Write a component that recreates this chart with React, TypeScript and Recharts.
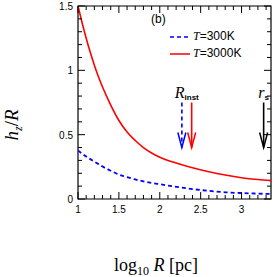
import React from "react";
import {
  ComposedChart,
  Line,
  XAxis,
  YAxis,
  ReferenceLine,
  ReferenceDot,
  ReferenceArea,
} from "recharts";

const W = 277;
const H = 277;
const MARGIN = { top: 6, right: 6, left: 39, bottom: 39 };
const PLOT_W = W - MARGIN.left - MARGIN.right;

const logR = [1.0, 1.05, 1.1, 1.15, 1.2, 1.25, 1.3, 1.4, 1.5, 1.6, 1.7, 1.8, 1.9, 2.0, 2.2, 2.4, 2.6, 2.8, 3.0, 3.2, 3.36];
const hT3000 = [1.5, 1.37, 1.25, 1.14, 1.04, 0.95, 0.87, 0.73, 0.61, 0.52, 0.455, 0.4, 0.358, 0.325, 0.28, 0.243, 0.212, 0.186, 0.165, 0.151, 0.143];
const hT300 = [0.377, 0.353, 0.33, 0.31, 0.29, 0.271, 0.252, 0.22, 0.19, 0.17, 0.152, 0.137, 0.125, 0.115, 0.095, 0.077, 0.063, 0.052, 0.046, 0.042, 0.039];

const xTicks = [1, 1.1, 1.2, 1.3, 1.4, 1.5, 1.6, 1.7, 1.8, 1.9, 2, 2.1, 2.2, 2.3, 2.4, 2.5, 2.6, 2.7, 2.8, 2.9, 3, 3.1, 3.2, 3.3];
const xMajor = [1, 1.5, 2, 2.5, 3];
const yTicks = [0, 0.1, 0.2, 0.3, 0.4, 0.5, 0.6, 0.7, 0.8, 0.9, 1, 1.1, 1.2, 1.3, 1.4, 1.5];
const yMajor = [0, 0.5, 1, 1.5];

// arrows: x position, top, tip
const arrowTop = 0.75;
const arrowTip = 0.4;
const arrows = [
  { x: 2.27, color: "#0000ff", dashed: true },
  { x: 2.39, color: "#ff0000", dashed: false },
  { x: 3.27, color: "#000000", dashed: false },
];

const data = logR.map((x, i) => ({ x, t300: hT300[i], t3000: hT3000[i] }));

const isMajor = (v: number, list: number[]) => list.some((m) => Math.abs(m - v) < 1e-6);

const NUM_FONT = "Liberation Sans, Arial, sans-serif";
const SERIF = "Liberation Serif, Times New Roman, serif";

function XTick(props: any) {
  const { x, y, payload } = props;
  const major = isMajor(payload.value, xMajor);
  const len = major ? 7 : 4;
  return (
    <g>
      <line x1={x} x2={x} y1={y} y2={y - len} stroke="#000" strokeWidth={1} />
      <line x1={x} x2={x} y1={MARGIN.top} y2={MARGIN.top + len} stroke="#000" strokeWidth={1} />
      {major && (
        <text x={x} y={y + 14} textAnchor="middle" fontSize={10} fontFamily={NUM_FONT} fill="#000">
          {payload.value}
        </text>
      )}
    </g>
  );
}

function YTick(props: any) {
  const { x, y, payload } = props;
  const major = isMajor(payload.value, yMajor);
  const len = major ? 7 : 4;
  const right = W - MARGIN.right;
  return (
    <g>
      <line x1={x} x2={x + len} y1={y} y2={y} stroke="#000" strokeWidth={1} />
      <line x1={right} x2={right - len} y1={y} y2={y} stroke="#000" strokeWidth={1} />
      {major && (
        <text x={x - 5} y={y + 4} textAnchor="end" fontSize={10} fontFamily={NUM_FONT} fill="#000">
          {payload.value}
        </text>
      )}
    </g>
  );
}

function ArrowHead(props: any) {
  const { cx, cy, color } = props;
  if (cx == null || cy == null) return null;
  return (
    <path
      d={`M${cx - 4},${cy - 15} L${cx},${cy} L${cx + 4},${cy - 15}`}
      fill="none"
      stroke={color}
      strokeWidth={1.5}
    />
  );
}

function LegendBox() {
  return (
    <div
      style={{
        position: "absolute",
        left: 151,
        top: 11,
        fontFamily: NUM_FONT,
        fontSize: 12,
        color: "#000",
        lineHeight: "17px",
        pointerEvents: "none",
      }}
    >
      <div style={{ marginLeft: 0, marginBottom: 0 }}>(b)</div>
      <div style={{ display: "flex", alignItems: "center", marginLeft: 19 }}>
        <svg width={20} height={6}>
          <line x1={0} x2={20} y1={3} y2={3} stroke="#0000ff" strokeWidth={1.5} strokeDasharray="4 3" />
        </svg>
        <span style={{ marginLeft: 3 }}>
          <i style={{ fontFamily: SERIF }}>T</i>=300K
        </span>
      </div>
      <div style={{ display: "flex", alignItems: "center", marginLeft: 19 }}>
        <svg width={20} height={6}>
          <line x1={0} x2={20} y1={3} y2={3} stroke="#ff0000" strokeWidth={1.5} />
        </svg>
        <span style={{ marginLeft: 3 }}>
          <i style={{ fontFamily: SERIF }}>T</i>=3000K
        </span>
      </div>
    </div>
  );
}

export default function App() {
  return (
    <div style={{ position: "absolute", left: 0, top: 0, width: W, height: H, background: "#fff" }}>
      <ComposedChart width={W} height={H} data={data} margin={MARGIN}>
        <XAxis
          dataKey="x"
          type="number"
          domain={[1, 3.36]}
          ticks={xTicks}
          interval={0}
          tickSize={0}
          tickMargin={0}
          tickLine={false}
          axisLine={false}
          tick={<XTick />}
          height={MARGIN.bottom}
          allowDataOverflow
          label={{
            content: () => (
              <text x={MARGIN.left + PLOT_W / 2 + 1} y={H - 6} textAnchor="middle" fontFamily={SERIF} fontSize={18} fill="#000">
                log
                <tspan fontSize={12} dy={4}>10</tspan>
                <tspan dy={-4}> </tspan>
                <tspan fontStyle="italic">R</tspan>
                <tspan>{"  [pc]"}</tspan>
              </text>
            ),
          }}
        />
        <YAxis
          type="number"
          domain={[0, 1.5]}
          ticks={yTicks}
          interval={0}
          tickSize={0}
          tickMargin={0}
          tickLine={false}
          axisLine={false}
          tick={<YTick />}
          width={MARGIN.left}
          allowDataOverflow
          label={{
            content: () => {
              const cx = 18;
              const cy = 125;
              return (
                <text transform={`translate(${cx},${cy}) rotate(-90)`} textAnchor="middle" fontFamily={SERIF} fontSize={19} fill="#000">
                  <tspan fontStyle="italic">h</tspan>
                  <tspan fontStyle="italic" fontSize={12} dy={4}>z</tspan>
                  <tspan dy={-4}>/</tspan>
                  <tspan fontStyle="italic">R</tspan>
                </text>
              );
            },
          }}
        />
        <ReferenceArea x1={1} x2={3.36} y1={0} y2={1.5} fill="none" stroke="#000" strokeWidth={1.2} ifOverflow="visible" />
        <Line
          type="monotone"
          dataKey="t300"
          stroke="#0000ff"
          strokeWidth={1.8}
          strokeDasharray="4 3"
          dot={false}
          isAnimationActive={false}
        />
        <Line
          type="monotone"
          dataKey="t3000"
          stroke="#ff0000"
          strokeWidth={1.6}
          dot={false}
          isAnimationActive={false}
        />
        {arrows.map((a) => (
          <ReferenceLine
            key={`l${a.x}`}
            segment={[
              { x: a.x, y: arrowTop },
              { x: a.x, y: arrowTip },
            ]}
            stroke={a.color}
            strokeWidth={1.6}
            strokeDasharray={a.dashed ? "4 3" : undefined}
          />
        ))}
        {arrows.map((a) => (
          <ReferenceDot
            key={`h${a.x}`}
            x={a.x}
            y={arrowTip}
            r={0}
            shape={(p: any) => <ArrowHead {...p} color={a.color} />}
          />
        ))}
        <ReferenceDot
          x={2.33}
          y={arrowTop}
          r={0}
          shape={(p: any) => (
            <text x={p.cx} y={p.cy - 5} textAnchor="middle" fontFamily={SERIF} fontSize={16} fill="#000">
              <tspan fontStyle="italic">R</tspan>
              <tspan fontFamily={NUM_FONT} fontWeight="bold" fontSize={8} dy={2}>inst</tspan>
            </text>
          )}
        />
        <ReferenceDot
          x={3.27}
          y={arrowTop}
          r={0}
          shape={(p: any) => (
            <text x={p.cx} y={p.cy - 5} textAnchor="middle" fontFamily={SERIF} fontSize={16} fill="#000">
              <tspan fontStyle="italic">r</tspan>
              <tspan fontFamily={NUM_FONT} fontWeight="bold" fontSize={8} dy={2}>s</tspan>
            </text>
          )}
        />
      </ComposedChart>
      <LegendBox />
    </div>
  );
}
